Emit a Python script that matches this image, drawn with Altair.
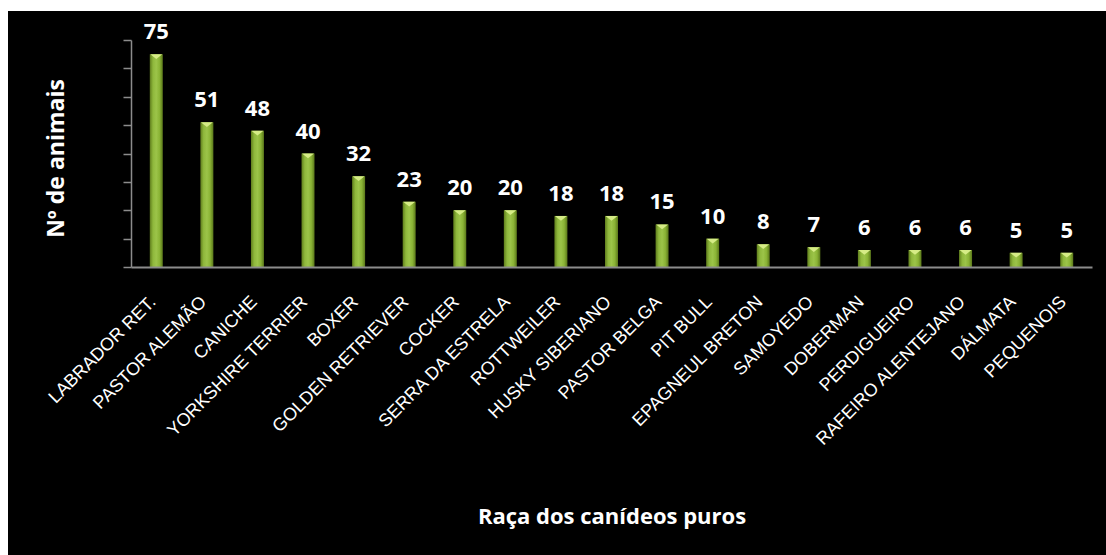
import altair as alt
import pandas as pd

breeds = ["LABRADOR RET.", "PASTOR ALEMÃO", "CANICHE", "YORKSHIRE TERRIER", "BOXER",
          "GOLDEN RETRIEVER", "COCKER", "SERRA DA ESTRELA", "ROTTWEILER", "HUSKY SIBERIANO",
          "PASTOR BELGA", "PIT BULL", "EPAGNEUL BRETON", "SAMOYEDO", "DOBERMAN",
          "PERDIGUEIRO", "RAFEIRO ALENTEJANO", "DÁLMATA", "PEQUENOIS"]
counts = [75, 51, 48, 40, 32, 23, 20, 20, 18, 18, 15, 10, 8, 7, 6, 6, 6, 5, 5]
y_ticks = [0, 10, 20, 30, 40, 50, 60, 70, 80]

df = pd.DataFrame({"raca": breeds, "n": counts})

W, H = 961, 227
PL, PT = 131, 40
FULL_W, FULL_H = 1106, 555

x = alt.X("raca:N", sort=None,
          axis=alt.Axis(title="Raça dos canídeos puros", labelAngle=-45,
                        labelAlign="right", labelBaseline="middle",
                        labelFont="Liberation Sans", labelFontSize=18, labelColor="white",
                        labelPadding=32, labelOffset=-3, labelLimit=400, ticks=False, zindex=2,
                        domainColor="#8c8c8c", domainWidth=2,
                        titleFont="Open Sans", titleFontSize=22, titleFontWeight="bold",
                        titleColor="white", titleX=W / 2, titleY=516 - PT - H,
                        titleBaseline="middle", titleAlign="center"))
y = alt.Y("n:Q", scale=alt.Scale(domain=[0, 80], nice=False),
          axis=alt.Axis(title="Nº de animais", values=y_ticks, labels=False, grid=False,
                        ticks=True, tickSize=8, tickColor="#8c8c8c", tickWidth=1.5,
                        domainColor="#8c8c8c", domainWidth=1.5, zindex=2,
                        titleFont="Open Sans", titleFontSize=23, titleFontWeight="bold",
                        titleColor="white", titleX=56 - PL, titleY=118,
                        titleAngle=-90, titleBaseline="middle", titleAlign="center"))

bg = alt.Chart(pd.DataFrame({"k": [0]})).mark_rect(color="black").encode(
    x=alt.value(8 - PL), x2=alt.value(FULL_W - PL + 10),
    y=alt.value(11 - PT), y2=alt.value(FULL_H - PT + 10))

gradient = alt.Gradient(
    gradient="linear", x1=0, x2=1, y1=0, y2=0,
    stops=[alt.GradientStop(color="#5f7d1c", offset=0),
           alt.GradientStop(color="#8fb83c", offset=0.25),
           alt.GradientStop(color="#9cc449", offset=0.5),
           alt.GradientStop(color="#8ab335", offset=0.75),
           alt.GradientStop(color="#5a771a", offset=1)])

base = alt.Chart(df).encode(x=x, y=y)
bars = base.mark_bar(size=13, color=gradient)
tri = base.mark_point(shape="M-1,0L1,0L0,0.8Z", size=144, filled=True,
                      color="#d6ec86", opacity=1, strokeWidth=0)
text = base.mark_text(dy=-15, baseline="alphabetic", fontSize=22, fontWeight="bold",
                      font="Open Sans", color="white").encode(text="n:Q")

chart = alt.layer(bg, bars, tri, text).properties(
    width=W, height=H, background="white",
    padding={"left": PL, "top": PT, "right": FULL_W - PL - W, "bottom": FULL_H - PT - H},
    autosize=alt.AutoSizeParams(type="none"),
).configure_view(stroke=None)

chart.save("out.html", embed_options={"renderer": "svg", "actions": False})
